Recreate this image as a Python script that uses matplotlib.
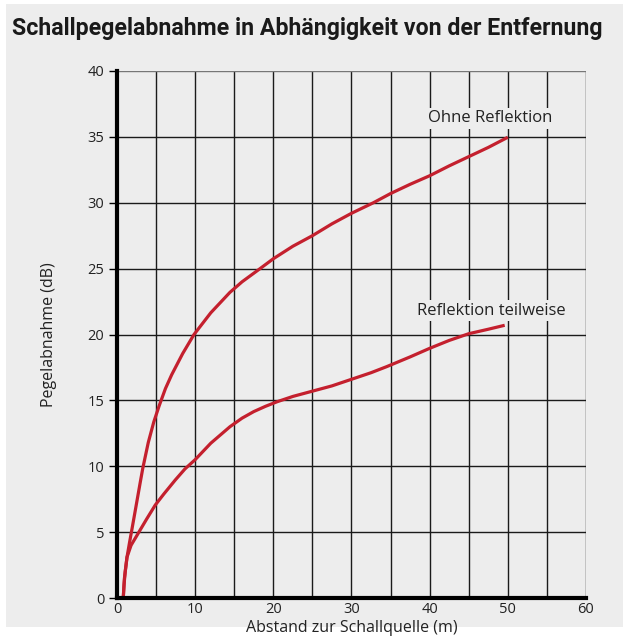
import numpy as np
import matplotlib
matplotlib.use("Agg")
import matplotlib.pyplot as plt
from matplotlib.patches import Rectangle

# Werte
ohne_x = [0.8, 0.9, 1.05, 1.28, 1.6, 1.92, 2.4, 2.98, 3.3, 4.0, 4.7, 5.4, 6.2,
          7.0, 8.4, 9.85, 12.0, 14.45, 16.0, 18.3, 20.0, 22.5, 25.0, 27.5,
          30.0, 32.8, 35.0, 37.5, 40.0, 42.5, 45.0, 47.5, 50.0]
ohne_y = [0.0, 1.0, 2.0, 3.1, 4.2, 5.25, 6.85, 8.8, 9.85, 11.8, 13.35, 14.6,
          15.9, 16.95, 18.55, 20.0, 21.65, 23.2, 24.0, 25.0, 25.75, 26.7, 27.5,
          28.4, 29.2, 30.0, 30.7, 31.4, 32.05, 32.8, 33.5, 34.2, 34.97]

teil_x = [0.8, 0.95, 1.28, 1.8, 2.8, 3.8, 4.9, 6.0, 7.46, 8.7, 10.0, 12.0,
          14.45, 16.0, 17.5, 19.0, 20.5, 22.5, 25.0, 27.5, 30.0, 32.5, 34.5,
          37.5, 40.0, 42.5, 45.0, 47.5, 49.6]
teil_y = [0.0, 1.5, 3.1, 4.0, 5.0, 6.0, 7.06, 7.9, 8.96, 9.8, 10.5, 11.75,
          13.0, 13.65, 14.15, 14.55, 14.9, 15.3, 15.7, 16.1, 16.6, 17.1, 17.56,
          18.3, 18.95, 19.55, 20.06, 20.4, 20.7]

xticks = [0, 10, 20, 30, 40, 50, 60]
yticks = [0, 5, 10, 15, 20, 25, 30, 35, 40]

BG = "#ededed"
RED = "#c4202e"
TXT = "#222222"
plt.rcParams["font.family"] = ["Open Sans", "DejaVu Sans"]

fig = plt.figure(figsize=(6.23, 6.37), dpi=100, facecolor="white")
fig.patches.append(Rectangle((6 / 623, 10 / 637), 1 - 6 / 623, 1 - 14 / 637,
                             transform=fig.transFigure, facecolor=BG,
                             edgecolor="none", zorder=-10))

ax = fig.add_axes([117 / 623, 39 / 637, 469 / 623, 527 / 637])
ax.set_facecolor(BG)
ax.set_xlim(0, 60)
ax.set_ylim(0, 40)

# Raster alle 5 Einheiten
for gx in np.arange(5, 61, 5):
    ax.axvline(gx, color="#1a1a1a", lw=1.0, zorder=1)
for gy in np.arange(5, 41, 5):
    ax.axhline(gy, color="#1a1a1a" if gy < 40 else "#777777", lw=1.0, zorder=1)

ax.plot(ohne_x, ohne_y, color=RED, lw=2.3, solid_capstyle="butt",
        solid_joinstyle="round", zorder=3)
ax.plot(teil_x, teil_y, color=RED, lw=2.3, solid_capstyle="butt",
        solid_joinstyle="round", zorder=3)

box = dict(boxstyle="square,pad=0.15", facecolor=BG, edgecolor="none")
ax.text(47.8, 36.4, "Ohne Reflektion", ha="center", va="center",
        fontsize=12, color=TXT, bbox=box, zorder=4)
ax.text(47.9, 21.8, "Reflektion teilweise", ha="center", va="center",
        fontsize=12, color=TXT, bbox=box, zorder=4)

for s in ["top", "right"]:
    ax.spines[s].set_visible(False)
ax.spines["left"].set_linewidth(3.0)
ax.spines["bottom"].set_linewidth(3.0)
ax.spines["left"].set_zorder(5)
ax.spines["bottom"].set_zorder(5)

ax.set_xticks(xticks)
ax.set_yticks(yticks)
ax.tick_params(axis="x", length=0, pad=3, labelsize=10.5, labelcolor=TXT)
ax.tick_params(axis="y", length=6, width=1.0, pad=3, labelsize=10.5,
               labelcolor=TXT)

ax.set_xlabel("Abstand zur Schallquelle (m)", fontsize=11.5, color=TXT)
ax.xaxis.set_label_coords(0.5, -0.041)
ax.set_ylabel("Pegelabnahme (dB)", fontsize=11.5, color=TXT, labelpad=22)

fig.text(12 / 623, 1 - 28 / 637, "Schallpegelabnahme in Abhängigkeit von der Entfernung",
         fontsize=16.7, fontweight="bold", color="#1a1a1a", ha="left",
         va="center", family=["Roboto", "DejaVu Sans"])

fig.savefig("out.png", dpi=100, facecolor="white")
